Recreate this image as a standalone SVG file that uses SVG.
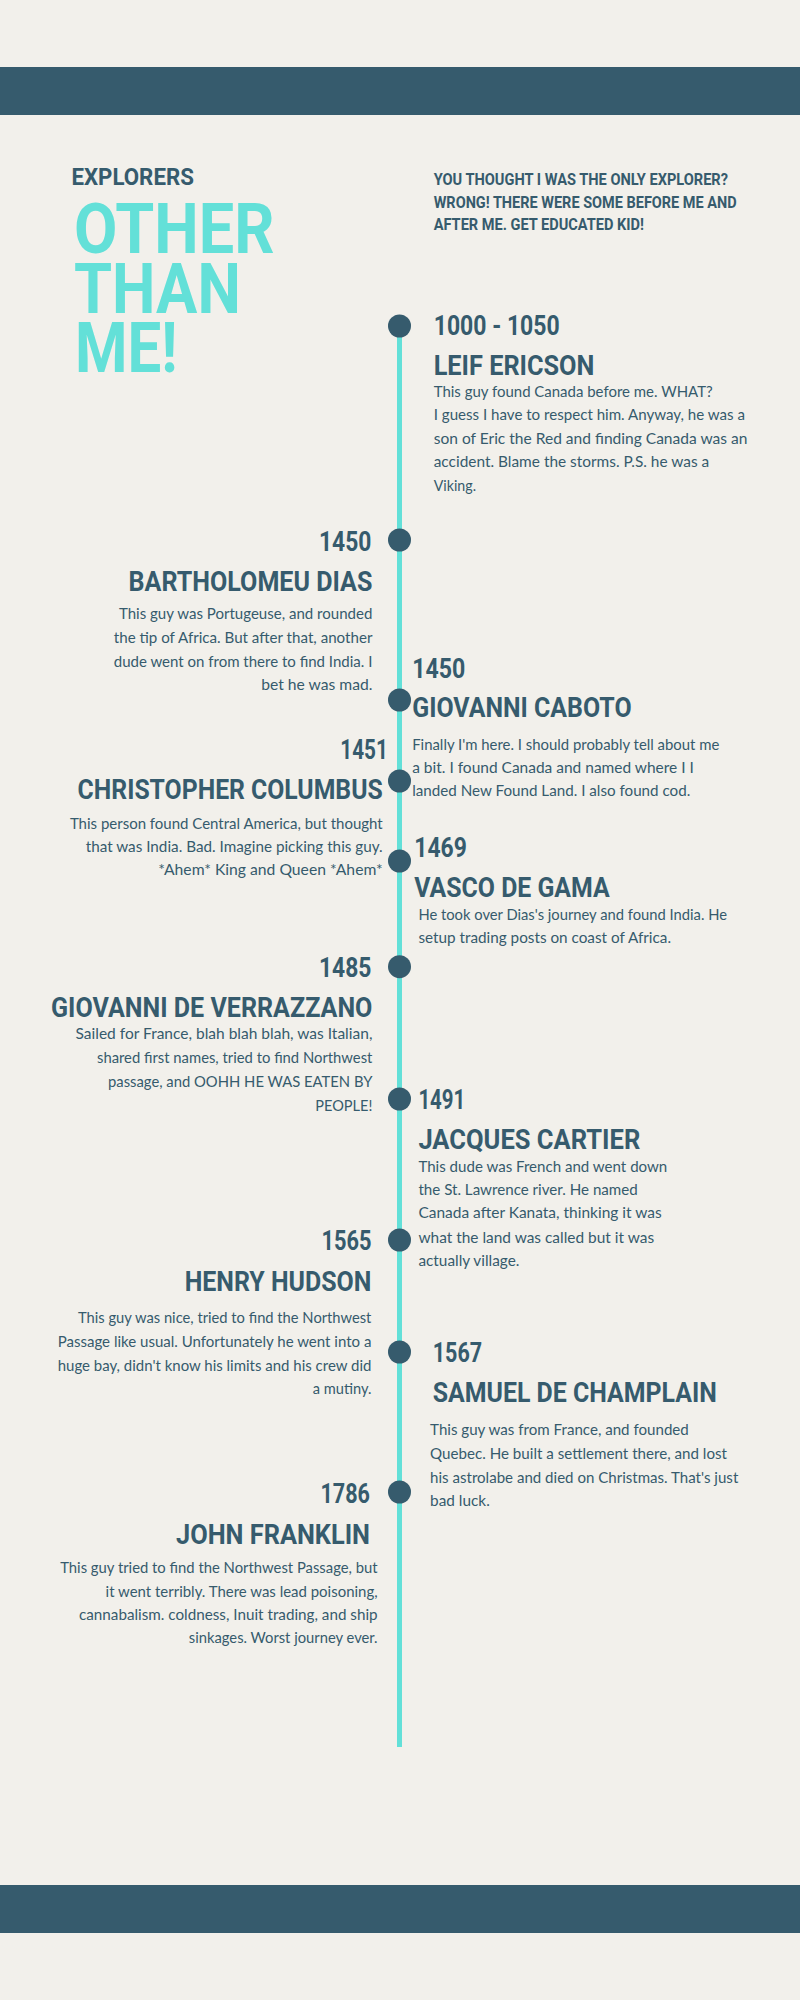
<svg xmlns="http://www.w3.org/2000/svg" width="800" height="2000" viewBox="0 0 800 2000">
<style>
.bg{fill:#F2F0EB}
.band{fill:#365B6D}
.h{font-family:"Liberation Sans Narrow","Roboto","Liberation Sans",sans-serif;font-weight:bold;fill:#365B6D}
.yr{font-size:27px}
.nm{font-size:27px}
.big{font-family:"Liberation Sans Narrow","Roboto","Liberation Sans",sans-serif;font-weight:bold;fill:#63E0D8;font-size:71px}
.sub{font-size:16.5px}
.b{font-family:"Lato","Noto Sans",sans-serif;font-weight:400;font-size:15px;fill:#365B6D}
.dot{fill:#365B6D}
.line{stroke:#63E0D8;stroke-width:5}
</style>
<rect class="bg" x="0" y="0" width="800" height="2000"/>
<rect class="band" x="0" y="67" width="800" height="48"/>
<rect class="band" x="0" y="1885" width="800" height="48"/>

<g id="title">
<text class="h" x="71.4" y="185" font-size="23" textLength="122.5" lengthAdjust="spacingAndGlyphs">EXPLORERS</text>
<text class="big" x="74" y="253.3" textLength="200.5" lengthAdjust="spacingAndGlyphs">OTHER</text>
<text class="big" x="74" y="312.7" textLength="166.8" lengthAdjust="spacingAndGlyphs">THAN</text>
<text class="big" x="75" y="371.7" textLength="102.5" lengthAdjust="spacingAndGlyphs">ME!</text>
</g>
<g id="intro">
<text class="h sub" x="433.7" y="185" textLength="294.3" lengthAdjust="spacingAndGlyphs">YOU THOUGHT I WAS THE ONLY EXPLORER?</text>
<text class="h sub" x="433.7" y="207.7" textLength="303" lengthAdjust="spacingAndGlyphs">WRONG! THERE WERE SOME BEFORE ME AND</text>
<text class="h sub" x="433.7" y="230" textLength="210.3" lengthAdjust="spacingAndGlyphs">AFTER ME. GET EDUCATED KID!</text>
</g>

<g id="connectors">
<line class="line" x1="399.5" y1="325" x2="399.5" y2="1747"/>
</g>

<g id="leif-ericson">
<circle class="dot" cx="399.5" cy="326" r="11.5"/>
<text class="h yr" x="433.7" y="335" textLength="126" lengthAdjust="spacingAndGlyphs">1000 - 1050</text>
<text class="h nm" x="433.7" y="375" textLength="160.7" lengthAdjust="spacingAndGlyphs">LEIF ERICSON</text>
<text class="b" x="433.7" y="396.7" textLength="279" lengthAdjust="spacingAndGlyphs">This guy found Canada before me. WHAT?</text>
<text class="b" x="433.7" y="420" textLength="311.3" lengthAdjust="spacingAndGlyphs">I guess I have to respect him. Anyway, he was a</text>
<text class="b" x="433.7" y="444.3" textLength="313.7" lengthAdjust="spacingAndGlyphs">son of Eric the Red and finding Canada was an</text>
<text class="b" x="433.7" y="467.3" textLength="275.5" lengthAdjust="spacingAndGlyphs">accident. Blame the storms. P.S. he was a</text>
<text class="b" x="433.7" y="491" textLength="42.3" lengthAdjust="spacingAndGlyphs">Viking.</text>
</g>

<g id="bartholomeu-dias">
<circle class="dot" cx="399.5" cy="540" r="11.5"/>
<text class="h yr" x="319" y="550.7" textLength="52.4" lengthAdjust="spacingAndGlyphs">1450</text>
<text class="h nm" x="128.6" y="590.7" textLength="243.8" lengthAdjust="spacingAndGlyphs">BARTHOLOMEU DIAS</text>
<text class="b" x="118.9" y="619" textLength="253.5" lengthAdjust="spacingAndGlyphs">This guy was Portugeuse, and rounded</text>
<text class="b" x="113.8" y="643.3" textLength="258.6" lengthAdjust="spacingAndGlyphs">the tip of Africa. But after that, another</text>
<text class="b" x="113.8" y="666.7" textLength="258.6" lengthAdjust="spacingAndGlyphs">dude went on from there to find India. I</text>
<text class="b" x="261.2" y="690" textLength="111.2" lengthAdjust="spacingAndGlyphs">bet he was mad.</text>
</g>

<g id="giovanni-caboto">
<circle class="dot" cx="399.5" cy="700" r="11.5"/>
<text class="h yr" x="412.2" y="677.7" textLength="53.1" lengthAdjust="spacingAndGlyphs">1450</text>
<text class="h nm" x="412.2" y="717.3" textLength="219.4" lengthAdjust="spacingAndGlyphs">GIOVANNI CABOTO</text>
<text class="b" x="412.2" y="750" textLength="307.2" lengthAdjust="spacingAndGlyphs">Finally I'm here. I should probably tell about me</text>
<text class="b" x="412.2" y="773.3" textLength="281.7" lengthAdjust="spacingAndGlyphs">a bit. I found Canada and named where I I</text>
<text class="b" x="412.2" y="796" textLength="278.1" lengthAdjust="spacingAndGlyphs">landed New Found Land. I also found cod.</text>
</g>

<g id="christopher-columbus">
<circle class="dot" cx="399.5" cy="781" r="11.5"/>
<text class="h yr" x="340.3" y="759" textLength="47.5" lengthAdjust="spacingAndGlyphs">1451</text>
<text class="h nm" x="77.6" y="799.3" textLength="305.1" lengthAdjust="spacingAndGlyphs">CHRISTOPHER COLUMBUS</text>
<text class="b" x="69.9" y="829" textLength="312.8" lengthAdjust="spacingAndGlyphs">This person found Central America, but thought</text>
<text class="b" x="85.7" y="851.7" textLength="297" lengthAdjust="spacingAndGlyphs">that was India. Bad. Imagine picking this guy.</text>
<text class="b" x="158.2" y="875" textLength="224.5" lengthAdjust="spacingAndGlyphs">*Ahem* King and Queen *Ahem*</text>
</g>

<g id="vasco-de-gama">
<circle class="dot" cx="399.5" cy="861" r="11.5"/>
<text class="h yr" x="414.3" y="857.3" textLength="52.5" lengthAdjust="spacingAndGlyphs">1469</text>
<text class="h nm" x="414.3" y="897.3" textLength="195.4" lengthAdjust="spacingAndGlyphs">VASCO DE GAMA</text>
<text class="b" x="418.4" y="920" textLength="308.6" lengthAdjust="spacingAndGlyphs">He took over Dias's journey and found India. He</text>
<text class="b" x="418.4" y="943.3" textLength="252.6" lengthAdjust="spacingAndGlyphs">setup trading posts on coast of Africa.</text>
</g>

<g id="giovanni-de-verrazzano">
<circle class="dot" cx="399.5" cy="966.7" r="11.5"/>
<text class="h yr" x="319" y="976.7" textLength="52.4" lengthAdjust="spacingAndGlyphs">1485</text>
<text class="h nm" x="51" y="1017.3" textLength="321.4" lengthAdjust="spacingAndGlyphs">GIOVANNI DE VERRAZZANO</text>
<text class="b" x="75.5" y="1039.3" textLength="296.9" lengthAdjust="spacingAndGlyphs">Sailed for France, blah blah blah, was Italian,</text>
<text class="b" x="97" y="1063.3" textLength="275.4" lengthAdjust="spacingAndGlyphs">shared first names, tried to find Northwest</text>
<text class="b" x="108" y="1087.3" textLength="264.4" lengthAdjust="spacingAndGlyphs">passage, and OOHH HE WAS EATEN BY</text>
<text class="b" x="315.3" y="1110.7" textLength="57.1" lengthAdjust="spacingAndGlyphs">PEOPLE!</text>
</g>

<g id="jacques-cartier">
<circle class="dot" cx="399.5" cy="1099" r="11.5"/>
<text class="h yr" x="418.4" y="1109.3" textLength="46.9" lengthAdjust="spacingAndGlyphs">1491</text>
<text class="h nm" x="418.4" y="1149.3" textLength="221.9" lengthAdjust="spacingAndGlyphs">JACQUES CARTIER</text>
<text class="b" x="418.4" y="1171.7" textLength="248.9" lengthAdjust="spacingAndGlyphs">This dude was French and went down</text>
<text class="b" x="418.4" y="1195" textLength="219.4" lengthAdjust="spacingAndGlyphs">the St. Lawrence river. He named</text>
<text class="b" x="418.4" y="1218.3" textLength="243.3" lengthAdjust="spacingAndGlyphs">Canada after Kanata, thinking it was</text>
<text class="b" x="418.4" y="1242.7" textLength="235.7" lengthAdjust="spacingAndGlyphs">what the land was called but it was</text>
<text class="b" x="418.4" y="1266" textLength="101" lengthAdjust="spacingAndGlyphs">actually village.</text>
</g>

<g id="henry-hudson">
<circle class="dot" cx="399.5" cy="1240" r="11.5"/>
<text class="h yr" x="321.4" y="1250" textLength="50" lengthAdjust="spacingAndGlyphs">1565</text>
<text class="h nm" x="184.7" y="1290.7" textLength="186.7" lengthAdjust="spacingAndGlyphs">HENRY HUDSON</text>
<text class="b" x="78" y="1323.3" textLength="293.4" lengthAdjust="spacingAndGlyphs">This guy was nice, tried to find the Northwest</text>
<text class="b" x="57.7" y="1346.7" textLength="313.7" lengthAdjust="spacingAndGlyphs">Passage like usual. Unfortunately he went into a</text>
<text class="b" x="57.7" y="1370.7" textLength="313.7" lengthAdjust="spacingAndGlyphs">huge bay, didn't know his limits and his crew did</text>
<text class="b" x="312.8" y="1394.3" textLength="58.6" lengthAdjust="spacingAndGlyphs">a mutiny.</text>
</g>

<g id="samuel-de-champlain">
<circle class="dot" cx="399.5" cy="1352" r="11.5"/>
<text class="h yr" x="432.7" y="1362.3" textLength="49.4" lengthAdjust="spacingAndGlyphs">1567</text>
<text class="h nm" x="432.7" y="1402.3" textLength="284.1" lengthAdjust="spacingAndGlyphs">SAMUEL DE CHAMPLAIN</text>
<text class="b" x="430.1" y="1435" textLength="258.7" lengthAdjust="spacingAndGlyphs">This guy was from France, and founded</text>
<text class="b" x="430.1" y="1459" textLength="296.9" lengthAdjust="spacingAndGlyphs">Quebec. He built a settlement there, and lost</text>
<text class="b" x="430.1" y="1482.7" textLength="308.2" lengthAdjust="spacingAndGlyphs">his astrolabe and died on Christmas. That's just</text>
<text class="b" x="430.1" y="1506" textLength="59.7" lengthAdjust="spacingAndGlyphs">bad luck.</text>
</g>

<g id="john-franklin">
<circle class="dot" cx="399.5" cy="1492" r="11.5"/>
<text class="h yr" x="320.4" y="1503.3" textLength="49.5" lengthAdjust="spacingAndGlyphs">1786</text>
<text class="h nm" x="176" y="1544" textLength="194" lengthAdjust="spacingAndGlyphs">JOHN FRANKLIN</text>
<text class="b" x="60.2" y="1572.7" textLength="317.4" lengthAdjust="spacingAndGlyphs">This guy tried to find the Northwest Passage, but</text>
<text class="b" x="105.6" y="1596.7" textLength="272" lengthAdjust="spacingAndGlyphs">it went terribly. There was lead poisoning,</text>
<text class="b" x="79" y="1620" textLength="298.6" lengthAdjust="spacingAndGlyphs">cannabalism. coldness, Inuit trading, and ship</text>
<text class="b" x="188.8" y="1643.3" textLength="188.8" lengthAdjust="spacingAndGlyphs">sinkages. Worst journey ever.</text>
</g>
</svg>
